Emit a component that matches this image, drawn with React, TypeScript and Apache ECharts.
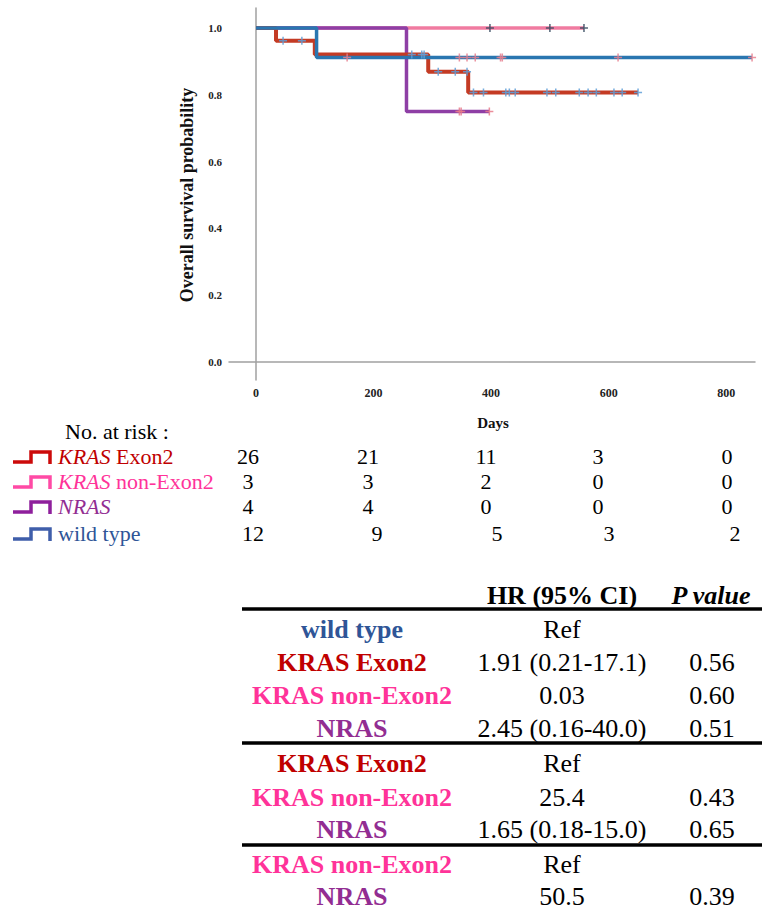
import React, { useEffect, useRef } from 'react';
import * as echarts from 'echarts';

const SERIF = 'Liberation Serif, Times New Roman, serif';

// ---- Kaplan-Meier step data (days, survival probability) ----
const krasE2Days = [0, 34, 100, 293, 361, 650];
const krasE2Surv = [1.0, 0.962, 0.921, 0.869, 0.807, 0.807];
const krasE2Censor = [46, 78, 265, 282, 286, 310, 339, 359, 370, 387, 425, 431, 441, 495, 510, 550, 565, 579, 609, 623, 650];

const krasNonDays = [0, 558];
const krasNonSurv = [1.0, 1.0];
const krasNonCensor = [398, 500, 558];

const nrasDays = [0, 256, 397];
const nrasSurv = [1.0, 0.75, 0.75];
const nrasCensor = [346, 349, 397];

const wildDays = [0, 103, 844];
const wildSurv = [1.0, 0.912, 0.912];
const wildCensor = [155, 346, 359, 373, 416, 419, 616, 844];

const xTicks = [0, 200, 400, 600, 800];
const yTicks = [0, 0.2, 0.4, 0.6, 0.8, 1.0];

// ---- Number at risk ----
const riskGroups = ['KRAS Exon2', 'KRAS non-Exon2', 'NRAS', 'wild type'];
const riskKrasE2 = [26, 21, 11, 3, 0];
const riskKrasNon = [3, 3, 2, 0, 0];
const riskNras = [4, 4, 0, 0, 0];
const riskWild = [12, 9, 5, 3, 2];

// ---- HR table ----
const hrGroups = ['wild type', 'KRAS Exon2', 'KRAS non-Exon2', 'NRAS', 'KRAS Exon2', 'KRAS non-Exon2', 'NRAS', 'KRAS non-Exon2', 'NRAS'];
const hrValues = ['Ref', '1.91 (0.21-17.1)', '0.03', '2.45 (0.16-40.0)', 'Ref', '25.4', '1.65 (0.18-15.0)', 'Ref', '50.5'];
const pValues = ['', '0.56', '0.60', '0.51', '', '0.43', '0.65', '', '0.39'];

// ---- styles ----
const lineColors = { krasE2: '#c43b24', krasNon: '#f07ba0', nras: '#8e3fa5', wild: '#2a76b0' };
const labelColors: Record<string, string> = {
  'KRAS Exon2': '#c00000',
  'KRAS non-Exon2': '#ff3399',
  NRAS: '#922d92',
  'wild type': '#2f5597',
};
const iconColors = ['#cc0a0a', '#ff4aa5', '#8e1f9c', '#3f5eaa'];

const PLUS = 'path://M3,0h1.4v3h3v1.4h-3v3h-1.4v-3h-3v-1.4h3z';

function levelAt(days: number[], surv: number[], t: number) {
  let v = surv[0];
  for (let i = 0; i < days.length; i++) if (days[i] <= t) v = surv[i];
  return v;
}

function stepSeries(name: string, days: number[], surv: number[], color: string, width: number, z: number) {
  return {
    name,
    type: 'line',
    step: 'end',
    data: days.map((d, i) => [d, surv[i]]),
    symbol: 'none',
    lineStyle: { color, width },
    z,
  };
}

function censorSeries(name: string, days: number[], surv: number[], cens: number[], color: string) {
  return {
    name: name + ' censored',
    type: 'scatter',
    symbol: PLUS,
    symbolSize: 8,
    data: cens.map((c) => [c, levelAt(days, surv, c)]),
    itemStyle: { color, opacity: 0.85 },
    z: 10,
  };
}

export default function App() {
  const ref = useRef<HTMLDivElement>(null);
  useEffect(() => {
    const chart = echarts.init(ref.current!, null, { renderer: 'svg' });

    const graphics: any[] = [];
    const txt = (text: string, x: number, y: number, o: any = {}) => {
      const style: any = {
        text,
        fill: o.fill || '#000',
        fontSize: o.fontSize || 22,
        fontFamily: SERIF,
        align: o.align || 'left',
        verticalAlign: 'middle',
      };
      if (o.fontWeight) style.fontWeight = o.fontWeight;
      if (o.fontStyle) style.fontStyle = o.fontStyle;
      if (o.rich) style.rich = o.rich;
      graphics.push({ type: 'text', x, y, rotation: o.rotation || 0, style });
    };

    // axis titles
    txt('Overall survival probability', 187, 195, { fontSize: 18, fontWeight: 'bold', align: 'center', rotation: Math.PI / 2, fill: '#111' });
    txt('Days', 493, 423, { fontSize: 15, fontWeight: 'bold', align: 'center', fill: '#111' });

    // number at risk
    const RF = 22;
    txt('No. at risk :', 65, 431, { fontSize: RF });
    const rowY = [456, 481, 506, 533];
    const colX = [248, 368, 486, 598, 727];
    const colXWild = [253, 377, 497, 609, 735];
    const riskRows = [riskKrasE2, riskKrasNon, riskNras, riskWild];
    riskGroups.forEach((g, i) => {
      const y = rowY[i];
      const c = labelColors[g];
      graphics.push({
        type: 'polyline',
        shape: { points: [[13, y + 6], [31, y + 6], [31, y - 4], [50, y - 4], [50, y + 8]] },
        style: { stroke: iconColors[i], lineWidth: 3.5, fill: 'none' },
      });
      let text = g;
      if (g.startsWith('KRAS')) text = '{i|KRAS}' + g.slice(4);
      else if (g === 'NRAS') text = '{i|NRAS}';
      txt(text, 58, y, {
        fill: c,
        fontSize: RF,
        rich: { i: { fontStyle: 'italic', fill: c, fontSize: RF, fontFamily: SERIF } },
      });
      const xs = i === 3 ? colXWild : colX;
      riskRows[i].forEach((v, j) => txt(String(v), xs[j], y, { fontSize: RF, align: 'center' }));
    });

    // HR table
    const HF = 26;
    txt('HR (95% CI)', 562, 595, { fontSize: HF, fontWeight: 'bold', align: 'center' });
    txt('P value', 711, 595, { fontSize: HF, fontWeight: 'bold', fontStyle: 'italic', align: 'center' });
    [609, 743, 845].forEach((y) =>
      graphics.push({ type: 'line', shape: { x1: 242, y1: y, x2: 762, y2: y }, style: { stroke: '#000', lineWidth: 3.5 } })
    );
    const hrY = [629, 662, 695, 728, 763, 797, 829, 864, 896];
    hrGroups.forEach((g, i) => {
      txt(g, 352, hrY[i], { fontSize: HF, fontWeight: 'bold', align: 'center', fill: labelColors[g] });
      txt(hrValues[i], 562, hrY[i], { fontSize: HF, align: 'center' });
      if (pValues[i]) txt(pValues[i], 712, hrY[i], { fontSize: HF, align: 'center' });
    });

    const axisLabelStyle = { fontFamily: SERIF, fontWeight: 'bold', fontSize: 12, color: '#222' };

    chart.setOption({
      animation: false,
      backgroundColor: '#fff',
      textStyle: { fontFamily: SERIF },
      grid: { left: 229, right: 7, top: 8, bottom: 531, containLabel: false },
      xAxis: {
        type: 'value',
        min: -46,
        max: 849,
        axisLine: { show: true, lineStyle: { color: '#a0a0a0', width: 1.5 } },
        axisTick: { show: false },
        splitLine: { show: false },
        axisLabel: { ...axisLabelStyle, margin: 7, customValues: xTicks, formatter: (v: number) => String(v) },
      },
      yAxis: {
        type: 'value',
        min: -0.054,
        max: 1.06,
        axisLine: { show: true, lineStyle: { color: '#a0a0a0', width: 1.5 } },
        axisTick: { show: false },
        splitLine: { show: false },
        axisLabel: { ...axisLabelStyle, fontSize: 11, margin: 7, customValues: yTicks, formatter: (v: number) => v.toFixed(1) },
      },
      series: [
        stepSeries('KRAS non-Exon2', krasNonDays, krasNonSurv, lineColors.krasNon, 3.5, 2),
        stepSeries('NRAS', nrasDays, nrasSurv, lineColors.nras, 3.5, 3),
        stepSeries('KRAS Exon2', krasE2Days, krasE2Surv, lineColors.krasE2, 4, 4),
        stepSeries('wild type', wildDays, wildSurv, lineColors.wild, 3.5, 5),
        censorSeries('KRAS Exon2', krasE2Days, krasE2Surv, krasE2Censor, '#5f9fd8'),
        censorSeries('KRAS non-Exon2', krasNonDays, krasNonSurv, krasNonCensor, '#34495e'),
        censorSeries('NRAS', nrasDays, nrasSurv, nrasCensor, '#e87a8a'),
        censorSeries('wild type', wildDays, wildSurv, wildCensor, '#e8808f'),
      ],
      graphic: graphics,
    });
    return () => chart.dispose();
  }, []);
  return (
    <div
      ref={ref}
      style={{ position: 'absolute', left: 0, top: 0, width: 762, height: 911, background: '#fff' }}
    />
  );
}
